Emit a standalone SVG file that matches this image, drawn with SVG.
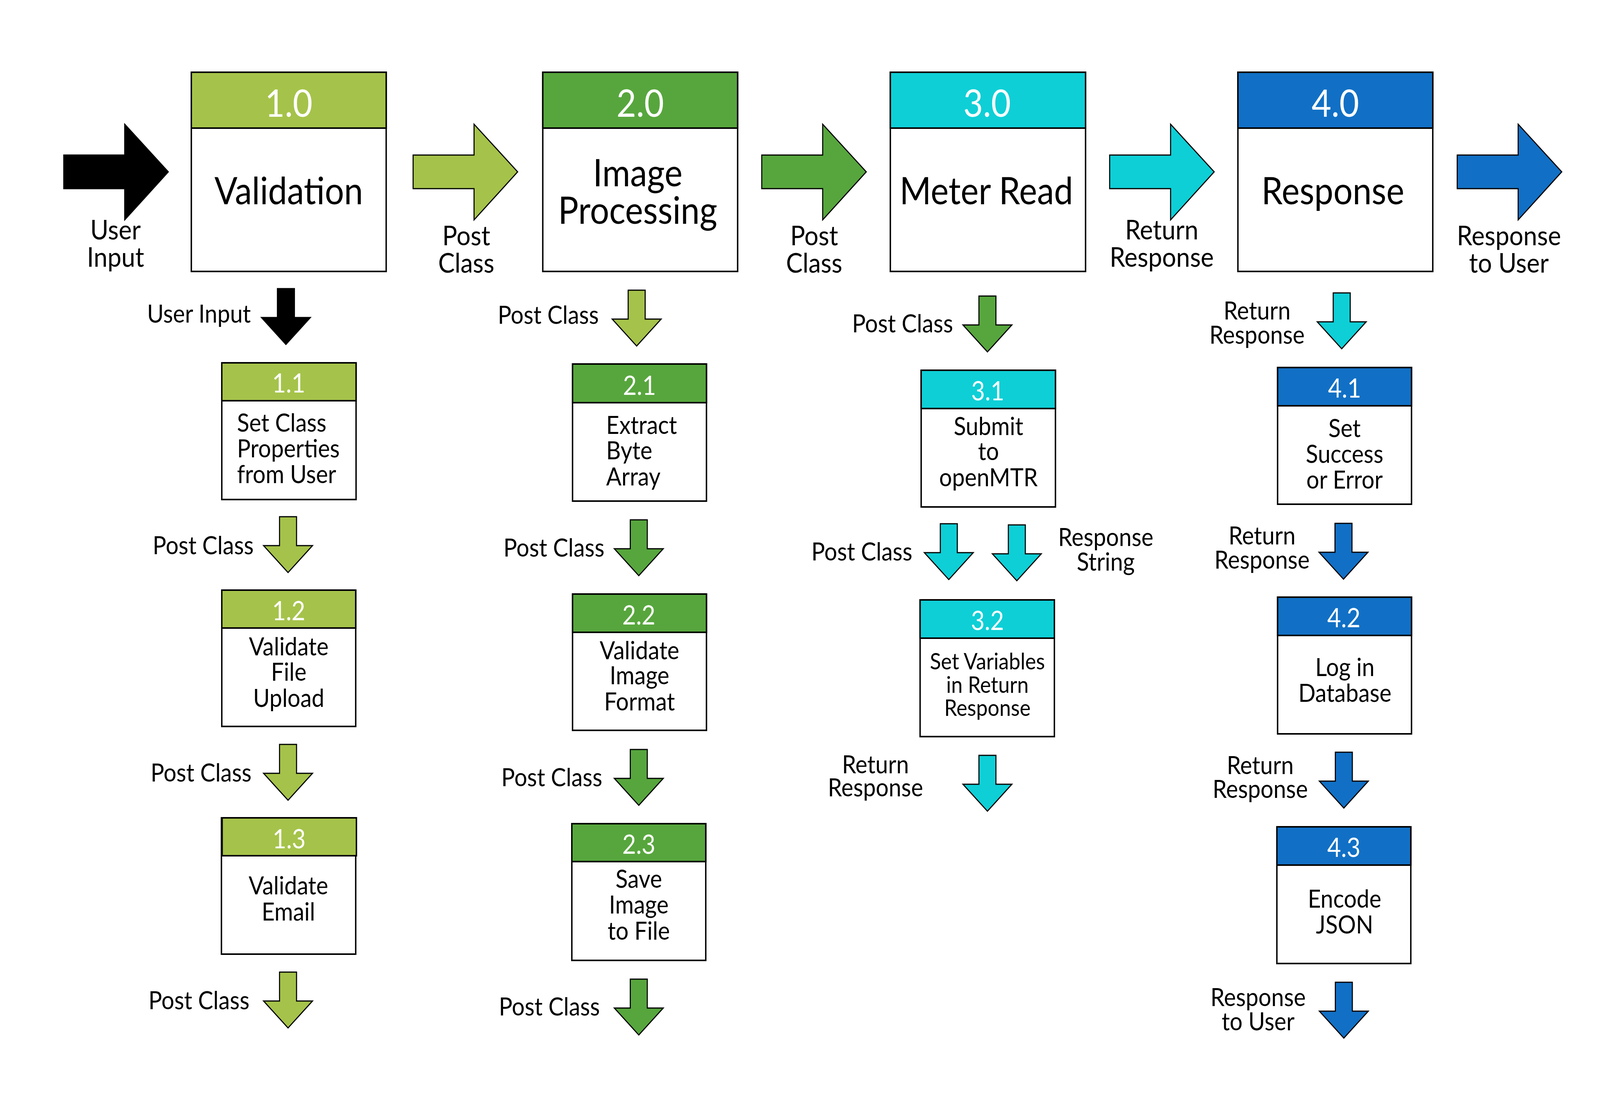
<svg xmlns="http://www.w3.org/2000/svg" width="4516" height="2860" viewBox="0 0 4516 2860" preserveAspectRatio="none" style="width:100%;height:100%;display:block">
<style>
text{font-family:Lato,"Open Sans","Liberation Sans",sans-serif;fill:#000}
.big{font-size:96px;text-anchor:middle}
.num{fill:#fff}
.sub{font-size:64px;text-anchor:middle}
.subl{font-size:64px;text-anchor:start}
.sm{font-size:58px;text-anchor:middle}
.subnum{font-size:67px;text-anchor:middle;fill:#fff}
.lbl{font-size:64px;text-anchor:end}
.lblc{font-size:64px;text-anchor:middle}
.top{font-size:70px;text-anchor:middle}
.box{fill:#fff;stroke:#000;stroke-width:4}
.hdr{stroke:#000;stroke-width:4}
.arr{stroke:#000;stroke-width:3;stroke-linejoin:miter}
.k{fill:#000}.lg{fill:#A5C34A}.g{fill:#57A63D}.c{fill:#0ECFD6}.b{fill:#1170C5}
</style>
<defs>
<path id="ra" d="M0,-43 H172 V-122 L295,0 L172,123 V43 H0 Z"/>
<path id="da" d="M-24,0 H24 V74 H69 L0,143 L-69,74 H-24 Z"/>
</defs>
<rect width="4516" height="2860" fill="#fff"/>

<g id="connectors">
  <use href="#ra" class="arr k" x="180" y="440"/>
  <use href="#ra" class="arr lg" x="1166" y="440"/>
  <use href="#ra" class="arr g" x="2150" y="440"/>
  <use href="#ra" class="arr c" x="3132" y="440"/>
  <use href="#ra" class="arr b" x="4113" y="440"/>
  <text class="top" x="326" y="613">User<tspan x="326" dy="70">Input</tspan></text>
  <text class="top" x="1316" y="628">Post<tspan x="1316" dy="70">Class</tspan></text>
  <text class="top" x="2298" y="628">Post<tspan x="2298" dy="70">Class</tspan></text>
  <text class="top" x="3279" y="613">Return<tspan x="3279" dy="70">Response</tspan></text>
  <text class="top" x="4259" y="628">Response<tspan x="4259" dy="70">to User</tspan></text>

  <use href="#da" class="arr k" x="807" y="739"/>
  <use href="#da" class="arr lg" x="813" y="1323"/>
  <use href="#da" class="arr lg" x="813" y="1906"/>
  <use href="#da" class="arr lg" x="813" y="2489"/>
  <text class="lbl" x="708" y="826">User Input</text>
  <text class="lbl" x="716" y="1419">Post Class</text>
  <text class="lbl" x="710" y="2001">Post Class</text>
  <text class="lbl" x="704" y="2584">Post Class</text>

  <use href="#da" class="arr lg" x="1797" y="743"/>
  <use href="#da" class="arr g" x="1803" y="1331"/>
  <use href="#da" class="arr g" x="1803" y="1919"/>
  <use href="#da" class="arr g" x="1803" y="2507"/>
  <text class="lbl" x="1690" y="829">Post Class</text>
  <text class="lbl" x="1706" y="1425">Post Class</text>
  <text class="lbl" x="1700" y="2013">Post Class</text>
  <text class="lbl" x="1693" y="2600">Post Class</text>

  <use href="#da" class="arr g" x="2787" y="758"/>
  <use href="#da" class="arr c" x="2678" y="1341"/>
  <use href="#da" class="arr c" x="2870" y="1344"/>
  <use href="#da" class="arr c" x="2787" y="1934"/>
  <text class="lbl" x="2690" y="851">Post Class</text>
  <text class="lbl" x="2575" y="1435">Post Class</text>
  <text class="lblc" x="3121" y="1398">Response<tspan x="3121" dy="63">String</tspan></text>
  <text class="lblc" x="2471" y="1980">Return<tspan x="2471" dy="59">Response</tspan></text>

  <use href="#da" class="arr c" x="3787" y="750"/>
  <use href="#da" class="arr b" x="3792" y="1340"/>
  <use href="#da" class="arr b" x="3793" y="1926"/>
  <use href="#da" class="arr b" x="3793" y="2515"/>
  <text class="lblc" x="3548" y="818">Return<tspan x="3548" dy="62">Response</tspan></text>
  <text class="lblc" x="3562" y="1394">Return<tspan x="3562" dy="62">Response</tspan></text>
  <text class="lblc" x="3557" y="1982">Return<tspan x="3557" dy="61">Response</tspan></text>
  <text class="lblc" x="3551" y="2576">Response<tspan x="3551" dy="62">to User</tspan></text>
</g>

<g id="node-1-0">
  <rect class="box" x="540" y="185" width="550" height="510"/>
  <rect class="hdr lg" x="540" y="185" width="550" height="143"/>
  <text class="big num" x="815" y="299">1.0</text>
  <text class="big" x="815" y="523">Validation</text>
</g>
<g id="node-2-0">
  <rect class="box" x="1532" y="185" width="550" height="510"/>
  <rect class="hdr g" x="1532" y="185" width="550" height="143"/>
  <text class="big num" x="1807" y="299">2.0</text>
  <text class="big" x="1800" y="477">Image<tspan x="1800" dy="96">Processing</tspan></text>
</g>
<g id="node-3-0">
  <rect class="box" x="2513" y="185" width="551" height="510"/>
  <rect class="hdr c" x="2513" y="185" width="551" height="143"/>
  <text class="big num" x="2786" y="299">3.0</text>
  <text class="big" x="2784" y="523">Meter Read</text>
</g>
<g id="node-4-0">
  <rect class="box" x="3494" y="185" width="550" height="510"/>
  <rect class="hdr b" x="3494" y="185" width="550" height="143"/>
  <text class="big num" x="3769" y="299">4.0</text>
  <text class="big" x="3762" y="523">Response</text>
</g>

<g id="node-1-1">
  <rect class="box" x="626" y="929" width="379" height="350"/>
  <rect class="hdr lg" x="626" y="929" width="379" height="97"/>
  <text class="subnum" x="815" y="1005">1.1</text>
  <text class="subl" x="669" y="1105">Set Class<tspan x="669" dy="66">Properties</tspan><tspan x="669" dy="66">from User</tspan></text>
</g>
<g id="node-1-2">
  <rect class="box" x="626" y="1511" width="378" height="349"/>
  <rect class="hdr lg" x="626" y="1511" width="378" height="97"/>
  <text class="subnum" x="815" y="1588">1.2</text>
  <text class="sub" x="815" y="1678">Validate<tspan x="815" dy="65">File</tspan><tspan x="815" dy="67">Upload</tspan></text>
</g>
<g id="node-1-3">
  <rect class="box" x="625" y="2094" width="379" height="349"/>
  <rect class="hdr lg" x="627" y="2094" width="379" height="97"/>
  <text class="subnum" x="816" y="2172">1.3</text>
  <text class="sub" x="814" y="2290">Validate<tspan x="814" dy="67">Email</tspan></text>
</g>

<g id="node-2-1">
  <rect class="box" x="1616" y="932" width="378" height="351"/>
  <rect class="hdr g" x="1616" y="932" width="378" height="99"/>
  <text class="subnum" x="1805" y="1011">2.1</text>
  <text class="subl" x="1711" y="1111">Extract<tspan x="1711" dy="65">Byte</tspan><tspan x="1711" dy="67">Array</tspan></text>
</g>
<g id="node-2-2">
  <rect class="box" x="1616" y="1521" width="378" height="349"/>
  <rect class="hdr g" x="1616" y="1521" width="378" height="98"/>
  <text class="subnum" x="1803" y="1599">2.2</text>
  <text class="sub" x="1805" y="1688">Validate<tspan x="1805" dy="64">Image</tspan><tspan x="1805" dy="67">Format</tspan></text>
</g>
<g id="node-2-3">
  <rect class="box" x="1614" y="2109" width="378" height="350"/>
  <rect class="hdr g" x="1614" y="2109" width="378" height="97"/>
  <text class="subnum" x="1803" y="2186">2.3</text>
  <text class="sub" x="1803" y="2273">Save<tspan x="1803" dy="66">Image</tspan><tspan x="1803" dy="67">to File</tspan></text>
</g>

<g id="node-3-1">
  <rect class="box" x="2600" y="948" width="379" height="350"/>
  <rect class="hdr c" x="2600" y="948" width="379" height="98"/>
  <text class="subnum" x="2788" y="1025">3.1</text>
  <text class="sub" x="2790" y="1114">Submit<tspan x="2790" dy="64">to</tspan><tspan x="2790" dy="67">openMTR</tspan></text>
</g>
<g id="node-3-2">
  <rect class="box" x="2597" y="1536" width="379" height="350"/>
  <rect class="hdr c" x="2597" y="1536" width="379" height="98"/>
  <text class="subnum" x="2787" y="1613">3.2</text>
  <text class="sm" x="2787" y="1714">Set Variables<tspan x="2787" dy="60">in Return</tspan><tspan x="2787" dy="59">Response</tspan></text>
</g>

<g id="node-4-1">
  <rect class="box" x="3606" y="941" width="378" height="350"/>
  <rect class="hdr b" x="3606" y="941" width="378" height="98"/>
  <text class="subnum" x="3795" y="1018">4.1</text>
  <text class="sub" x="3795" y="1119">Set<tspan x="3795" dy="66">Success</tspan><tspan x="3795" dy="66">or Error</tspan></text>
</g>
<g id="node-4-2">
  <rect class="box" x="3606" y="1529" width="378" height="350"/>
  <rect class="hdr b" x="3606" y="1529" width="378" height="98"/>
  <text class="subnum" x="3793" y="1606">4.2</text>
  <text class="sub" x="3796" y="1731">Log in<tspan x="3796" dy="66">Database</tspan></text>
</g>
<g id="node-4-3">
  <rect class="box" x="3604" y="2117" width="378" height="350"/>
  <rect class="hdr b" x="3604" y="2117" width="378" height="98"/>
  <text class="subnum" x="3793" y="2194">4.3</text>
  <text class="sub" x="3795" y="2324">Encode<tspan x="3795" dy="66">JSON</tspan></text>
</g>
</svg>
